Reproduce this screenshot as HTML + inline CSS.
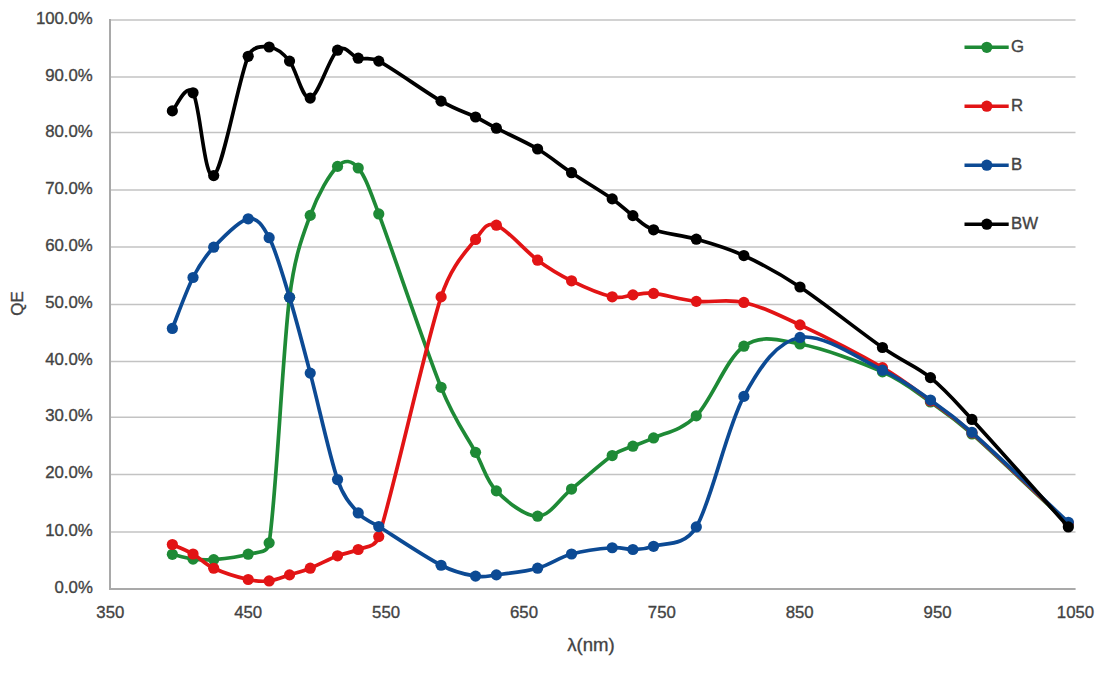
<!DOCTYPE html>
<html><head><meta charset="utf-8"><style>
html,body{margin:0;padding:0;background:#fff;}
body{width:1109px;height:676px;overflow:hidden;}
svg{display:block;}
.t{font-family:"Liberation Sans",sans-serif;font-size:16.8px;fill:#434343;stroke:#434343;stroke-width:0.35px;}
</style></head><body>
<svg width="1109" height="676" viewBox="0 0 1109 676">
<rect width="1109" height="676" fill="#fff"/>
<line x1="111" y1="19.90" x2="1075.5" y2="19.90" stroke="#c3c3c3" stroke-width="1.5"/>
<line x1="111" y1="77.10" x2="1075.5" y2="77.10" stroke="#c3c3c3" stroke-width="1.5"/>
<line x1="111" y1="132.55" x2="1075.5" y2="132.55" stroke="#c3c3c3" stroke-width="1.5"/>
<line x1="111" y1="190.10" x2="1075.5" y2="190.10" stroke="#c3c3c3" stroke-width="1.5"/>
<line x1="111" y1="247.05" x2="1075.5" y2="247.05" stroke="#c3c3c3" stroke-width="1.5"/>
<line x1="111" y1="304.50" x2="1075.5" y2="304.50" stroke="#c3c3c3" stroke-width="1.5"/>
<line x1="111" y1="361.45" x2="1075.5" y2="361.45" stroke="#c3c3c3" stroke-width="1.5"/>
<line x1="111" y1="417.20" x2="1075.5" y2="417.20" stroke="#c3c3c3" stroke-width="1.5"/>
<line x1="111" y1="474.50" x2="1075.5" y2="474.50" stroke="#c3c3c3" stroke-width="1.5"/>
<line x1="111" y1="531.90" x2="1075.5" y2="531.90" stroke="#c3c3c3" stroke-width="1.5"/>
<line x1="110" y1="19" x2="110" y2="589.9" stroke="#a9a9a9" stroke-width="2"/>
<line x1="109" y1="588.9" x2="1075.6" y2="588.9" stroke="#a9a9a9" stroke-width="2"/>
<text x="92.8" y="592.8" text-anchor="end" class="t">0.0%</text>
<text x="92.8" y="535.8" text-anchor="end" class="t">10.0%</text>
<text x="92.8" y="478.4" text-anchor="end" class="t">20.0%</text>
<text x="92.8" y="421.1" text-anchor="end" class="t">30.0%</text>
<text x="92.8" y="365.3" text-anchor="end" class="t">40.0%</text>
<text x="92.8" y="308.4" text-anchor="end" class="t">50.0%</text>
<text x="92.8" y="251.0" text-anchor="end" class="t">60.0%</text>
<text x="92.8" y="194.0" text-anchor="end" class="t">70.0%</text>
<text x="92.8" y="136.5" text-anchor="end" class="t">80.0%</text>
<text x="92.8" y="81.0" text-anchor="end" class="t">90.0%</text>
<text x="92.8" y="23.8" text-anchor="end" class="t">100.0%</text>
<text x="110.3" y="617.8" text-anchor="middle" class="t">350</text>
<text x="248.2" y="617.8" text-anchor="middle" class="t">450</text>
<text x="386.1" y="617.8" text-anchor="middle" class="t">550</text>
<text x="524.0" y="617.8" text-anchor="middle" class="t">650</text>
<text x="661.8" y="617.8" text-anchor="middle" class="t">750</text>
<text x="799.7" y="617.8" text-anchor="middle" class="t">850</text>
<text x="937.6" y="617.8" text-anchor="middle" class="t">950</text>
<text x="1075.5" y="617.8" text-anchor="middle" class="t">1050</text>
<text x="591" y="651" text-anchor="middle" class="t" style="font-size:18px" textLength="47.5" lengthAdjust="spacingAndGlyphs">λ(nm)</text>
<text transform="translate(23.3,303.5) rotate(-90)" text-anchor="middle" class="t">QE</text>
<path d="M172.35,554.30 C175.80,555.11 186.14,558.26 193.03,559.14 C199.93,560.02 204.52,560.42 213.71,559.59 C222.91,558.77 238.95,556.98 248.19,554.19 C257.42,551.40 267.25,554.62 269.14,542.86 C276.04,500.06 282.70,351.93 289.55,297.35 C294.81,255.42 302.24,237.23 310.23,215.40 C318.23,193.58 329.54,174.30 337.54,166.40 C344.91,159.11 351.42,160.16 358.22,168.00 C365.09,175.92 369.87,190.39 378.76,213.92 C392.58,250.48 424.96,347.58 441.09,387.33 C454.93,421.43 466.34,435.12 475.56,452.37 C484.77,469.63 486.04,480.21 496.38,490.85 C506.72,501.48 525.08,516.46 537.61,516.17 C550.13,515.88 559.10,499.18 571.53,489.08 C583.96,478.98 601.98,462.71 612.20,455.56 C621.51,449.05 625.99,449.11 632.89,446.17 C639.78,443.23 643.53,442.73 653.57,437.92 C664.14,432.85 681.26,431.07 696.31,415.78 C711.37,400.49 726.60,358.14 743.88,346.18 C761.17,334.22 776.91,339.73 800.00,344.02 C823.10,348.31 860.72,362.24 882.46,371.90 C904.20,381.57 915.53,391.67 930.44,402.01 C945.36,412.35 952.33,416.60 971.95,433.94 C994.93,454.24 1052.27,508.87 1068.33,523.85" fill="none" stroke="#1e8a36" stroke-width="3.7" stroke-linejoin="round"/>
<circle cx="172.35" cy="554.30" r="5.6" fill="#1e8a36"/>
<circle cx="193.03" cy="559.14" r="5.6" fill="#1e8a36"/>
<circle cx="213.71" cy="559.59" r="5.6" fill="#1e8a36"/>
<circle cx="248.19" cy="554.19" r="5.6" fill="#1e8a36"/>
<circle cx="269.14" cy="542.86" r="5.6" fill="#1e8a36"/>
<circle cx="289.55" cy="297.35" r="5.6" fill="#1e8a36"/>
<circle cx="310.23" cy="215.40" r="5.6" fill="#1e8a36"/>
<circle cx="337.54" cy="166.40" r="5.6" fill="#1e8a36"/>
<circle cx="358.22" cy="168.00" r="5.6" fill="#1e8a36"/>
<circle cx="378.76" cy="213.92" r="5.6" fill="#1e8a36"/>
<circle cx="441.09" cy="387.33" r="5.6" fill="#1e8a36"/>
<circle cx="475.56" cy="452.37" r="5.6" fill="#1e8a36"/>
<circle cx="496.38" cy="490.85" r="5.6" fill="#1e8a36"/>
<circle cx="537.61" cy="516.17" r="5.6" fill="#1e8a36"/>
<circle cx="571.53" cy="489.08" r="5.6" fill="#1e8a36"/>
<circle cx="612.20" cy="455.56" r="5.6" fill="#1e8a36"/>
<circle cx="632.89" cy="446.17" r="5.6" fill="#1e8a36"/>
<circle cx="653.57" cy="437.92" r="5.6" fill="#1e8a36"/>
<circle cx="696.31" cy="415.78" r="5.6" fill="#1e8a36"/>
<circle cx="743.88" cy="346.18" r="5.6" fill="#1e8a36"/>
<circle cx="800.00" cy="344.02" r="5.6" fill="#1e8a36"/>
<circle cx="882.46" cy="371.90" r="5.6" fill="#1e8a36"/>
<circle cx="930.44" cy="402.01" r="5.6" fill="#1e8a36"/>
<circle cx="971.95" cy="433.94" r="5.6" fill="#1e8a36"/>
<circle cx="1068.33" cy="523.85" r="5.6" fill="#1e8a36"/>
<path d="M172.35,544.51 C175.80,546.10 186.14,550.06 193.03,554.02 C199.93,557.97 204.52,563.99 213.71,568.24 C222.91,572.49 238.95,577.40 248.19,579.51 C257.42,581.63 262.25,581.70 269.14,580.93 C276.04,580.17 282.70,577.03 289.55,574.90 C296.40,572.78 302.24,571.37 310.23,568.19 C318.23,565.00 329.54,558.89 337.54,555.78 C345.53,552.67 351.35,552.72 358.22,549.52 C365.09,546.32 374.98,548.13 378.76,536.60 C392.58,494.50 424.96,346.43 441.09,296.90 C451.47,265.03 466.34,251.37 475.56,239.42 C483.26,229.43 486.04,221.73 496.38,225.19 C506.72,228.65 525.08,250.92 537.61,260.19 C550.13,269.46 559.10,274.69 571.53,280.79 C583.96,286.89 601.98,294.43 612.20,296.78 C622.32,299.11 625.99,295.46 632.89,294.90 C639.78,294.34 643.25,292.38 653.57,293.42 C664.14,294.50 681.26,299.83 696.31,301.34 C711.37,302.84 726.60,298.55 743.88,302.47 C761.17,306.40 776.91,314.04 800.00,324.90 C823.10,335.76 860.72,354.96 882.46,367.64 C904.20,380.31 915.53,390.07 930.44,400.93 C945.36,411.79 952.38,415.43 971.95,432.80 C994.93,453.19 1052.27,508.20 1068.33,523.28" fill="none" stroke="#e21415" stroke-width="3.7" stroke-linejoin="round"/>
<circle cx="172.35" cy="544.51" r="5.6" fill="#e21415"/>
<circle cx="193.03" cy="554.02" r="5.6" fill="#e21415"/>
<circle cx="213.71" cy="568.24" r="5.6" fill="#e21415"/>
<circle cx="248.19" cy="579.51" r="5.6" fill="#e21415"/>
<circle cx="269.14" cy="580.93" r="5.6" fill="#e21415"/>
<circle cx="289.55" cy="574.90" r="5.6" fill="#e21415"/>
<circle cx="310.23" cy="568.19" r="5.6" fill="#e21415"/>
<circle cx="337.54" cy="555.78" r="5.6" fill="#e21415"/>
<circle cx="358.22" cy="549.52" r="5.6" fill="#e21415"/>
<circle cx="378.76" cy="536.60" r="5.6" fill="#e21415"/>
<circle cx="441.09" cy="296.90" r="5.6" fill="#e21415"/>
<circle cx="475.56" cy="239.42" r="5.6" fill="#e21415"/>
<circle cx="496.38" cy="225.19" r="5.6" fill="#e21415"/>
<circle cx="537.61" cy="260.19" r="5.6" fill="#e21415"/>
<circle cx="571.53" cy="280.79" r="5.6" fill="#e21415"/>
<circle cx="612.20" cy="296.78" r="5.6" fill="#e21415"/>
<circle cx="632.89" cy="294.90" r="5.6" fill="#e21415"/>
<circle cx="653.57" cy="293.42" r="5.6" fill="#e21415"/>
<circle cx="696.31" cy="301.34" r="5.6" fill="#e21415"/>
<circle cx="743.88" cy="302.47" r="5.6" fill="#e21415"/>
<circle cx="800.00" cy="324.90" r="5.6" fill="#e21415"/>
<circle cx="882.46" cy="367.64" r="5.6" fill="#e21415"/>
<circle cx="930.44" cy="400.93" r="5.6" fill="#e21415"/>
<circle cx="971.95" cy="432.80" r="5.6" fill="#e21415"/>
<circle cx="1068.33" cy="523.28" r="5.6" fill="#e21415"/>
<path d="M172.35,328.42 C175.80,319.94 186.14,291.03 193.03,277.49 C199.93,263.96 204.52,256.99 213.71,247.21 C222.91,237.43 238.95,220.40 248.19,218.82 C257.42,217.23 262.57,225.23 269.14,237.71 C276.04,250.80 282.70,274.79 289.55,297.35 C296.40,319.92 302.24,342.73 310.23,373.10 C318.23,403.47 329.54,456.27 337.54,479.58 C343.90,498.14 351.35,505.10 358.22,512.93 C365.09,520.75 368.35,519.95 378.76,526.53 C392.58,535.24 424.96,556.97 441.09,565.23 C457.17,573.46 466.34,574.48 475.56,576.10 C484.77,577.71 486.04,576.22 496.38,574.90 C506.72,573.58 525.08,571.67 537.61,568.19 C550.13,564.71 559.10,557.42 571.53,554.02 C583.96,550.61 601.98,548.51 612.20,547.76 C622.43,547.01 625.99,549.77 632.89,549.52 C639.78,549.27 643.71,549.79 653.57,546.28 C664.14,542.51 684.21,547.02 696.31,526.93 C711.37,501.94 726.60,427.95 743.88,396.38 C761.17,364.80 776.91,341.84 800.00,337.47 C823.10,333.11 860.72,359.76 882.46,370.20 C904.20,380.63 915.53,389.71 930.44,400.07 C945.36,410.44 952.27,414.95 971.95,432.40 C994.93,452.77 1052.27,507.33 1068.33,522.32" fill="none" stroke="#0c4a94" stroke-width="3.7" stroke-linejoin="round"/>
<circle cx="172.35" cy="328.42" r="5.6" fill="#0c4a94"/>
<circle cx="193.03" cy="277.49" r="5.6" fill="#0c4a94"/>
<circle cx="213.71" cy="247.21" r="5.6" fill="#0c4a94"/>
<circle cx="248.19" cy="218.82" r="5.6" fill="#0c4a94"/>
<circle cx="269.14" cy="237.71" r="5.6" fill="#0c4a94"/>
<circle cx="289.55" cy="297.35" r="5.6" fill="#0c4a94"/>
<circle cx="310.23" cy="373.10" r="5.6" fill="#0c4a94"/>
<circle cx="337.54" cy="479.58" r="5.6" fill="#0c4a94"/>
<circle cx="358.22" cy="512.93" r="5.6" fill="#0c4a94"/>
<circle cx="378.76" cy="526.53" r="5.6" fill="#0c4a94"/>
<circle cx="441.09" cy="565.23" r="5.6" fill="#0c4a94"/>
<circle cx="475.56" cy="576.10" r="5.6" fill="#0c4a94"/>
<circle cx="496.38" cy="574.90" r="5.6" fill="#0c4a94"/>
<circle cx="537.61" cy="568.19" r="5.6" fill="#0c4a94"/>
<circle cx="571.53" cy="554.02" r="5.6" fill="#0c4a94"/>
<circle cx="612.20" cy="547.76" r="5.6" fill="#0c4a94"/>
<circle cx="632.89" cy="549.52" r="5.6" fill="#0c4a94"/>
<circle cx="653.57" cy="546.28" r="5.6" fill="#0c4a94"/>
<circle cx="696.31" cy="526.93" r="5.6" fill="#0c4a94"/>
<circle cx="743.88" cy="396.38" r="5.6" fill="#0c4a94"/>
<circle cx="800.00" cy="337.47" r="5.6" fill="#0c4a94"/>
<circle cx="882.46" cy="370.20" r="5.6" fill="#0c4a94"/>
<circle cx="930.44" cy="400.07" r="5.6" fill="#0c4a94"/>
<circle cx="971.95" cy="432.40" r="5.6" fill="#0c4a94"/>
<circle cx="1068.33" cy="522.32" r="5.6" fill="#0c4a94"/>
<path d="M172.35,110.91 C175.80,107.90 186.14,82.03 193.03,92.82 C199.93,103.60 204.52,181.71 213.71,175.62 C222.91,169.53 238.95,77.72 248.19,56.28 C252.72,45.76 262.25,46.20 269.14,47.00 C276.04,47.81 282.70,52.60 289.55,61.12 C296.40,69.64 302.24,99.93 310.23,98.11 C318.23,96.29 329.54,56.84 337.54,50.19 C345.53,43.54 351.35,56.39 358.22,58.22 C365.09,60.04 369.55,56.35 378.76,61.12 C392.58,68.27 424.96,91.81 441.09,101.13 C457.22,110.44 466.34,112.49 475.56,117.00 C484.77,121.52 486.04,122.88 496.38,128.22 C506.72,133.55 525.08,141.57 537.61,148.99 C550.13,156.40 559.10,164.40 571.53,172.72 C583.96,181.04 601.98,191.75 612.20,198.90 C622.43,206.05 625.99,210.48 632.89,215.63 C639.78,220.78 643.00,225.87 653.57,229.80 C664.14,233.73 681.26,234.89 696.31,239.19 C711.37,243.49 726.60,247.61 743.88,255.58 C761.17,263.55 776.91,271.68 800.00,286.99 C823.10,302.31 860.72,332.39 882.46,347.49 C904.20,362.59 915.53,365.61 930.44,377.59 C945.36,389.58 951.96,397.78 971.95,419.42 C994.93,444.31 1052.27,509.01 1068.33,526.93" fill="none" stroke="#000000" stroke-width="3.7" stroke-linejoin="round"/>
<circle cx="172.35" cy="110.91" r="5.6" fill="#000000"/>
<circle cx="193.03" cy="92.82" r="5.6" fill="#000000"/>
<circle cx="213.71" cy="175.62" r="5.6" fill="#000000"/>
<circle cx="248.19" cy="56.28" r="5.6" fill="#000000"/>
<circle cx="269.14" cy="47.00" r="5.6" fill="#000000"/>
<circle cx="289.55" cy="61.12" r="5.6" fill="#000000"/>
<circle cx="310.23" cy="98.11" r="5.6" fill="#000000"/>
<circle cx="337.54" cy="50.19" r="5.6" fill="#000000"/>
<circle cx="358.22" cy="58.22" r="5.6" fill="#000000"/>
<circle cx="378.76" cy="61.12" r="5.6" fill="#000000"/>
<circle cx="441.09" cy="101.13" r="5.6" fill="#000000"/>
<circle cx="475.56" cy="117.00" r="5.6" fill="#000000"/>
<circle cx="496.38" cy="128.22" r="5.6" fill="#000000"/>
<circle cx="537.61" cy="148.99" r="5.6" fill="#000000"/>
<circle cx="571.53" cy="172.72" r="5.6" fill="#000000"/>
<circle cx="612.20" cy="198.90" r="5.6" fill="#000000"/>
<circle cx="632.89" cy="215.63" r="5.6" fill="#000000"/>
<circle cx="653.57" cy="229.80" r="5.6" fill="#000000"/>
<circle cx="696.31" cy="239.19" r="5.6" fill="#000000"/>
<circle cx="743.88" cy="255.58" r="5.6" fill="#000000"/>
<circle cx="800.00" cy="286.99" r="5.6" fill="#000000"/>
<circle cx="882.46" cy="347.49" r="5.6" fill="#000000"/>
<circle cx="930.44" cy="377.59" r="5.6" fill="#000000"/>
<circle cx="971.95" cy="419.42" r="5.6" fill="#000000"/>
<circle cx="1068.33" cy="526.93" r="5.6" fill="#000000"/>
<line x1="964.5" y1="47.3" x2="1008.7" y2="47.3" stroke="#1e8a36" stroke-width="3.6"/>
<circle cx="986.8" cy="47.3" r="5.6" fill="#1e8a36"/>
<text x="1011" y="51.7" class="t">G</text>
<line x1="964.5" y1="106.2" x2="1008.7" y2="106.2" stroke="#e21415" stroke-width="3.6"/>
<circle cx="986.8" cy="106.2" r="5.6" fill="#e21415"/>
<text x="1011" y="110.7" class="t">R</text>
<line x1="964.5" y1="165.2" x2="1008.7" y2="165.2" stroke="#0c4a94" stroke-width="3.6"/>
<circle cx="986.8" cy="165.2" r="5.6" fill="#0c4a94"/>
<text x="1011" y="169.6" class="t">B</text>
<line x1="964.5" y1="224.2" x2="1008.7" y2="224.2" stroke="#000000" stroke-width="3.6"/>
<circle cx="986.8" cy="224.2" r="5.6" fill="#000000"/>
<text x="1011" y="228.6" class="t">BW</text>
</svg></body></html>
